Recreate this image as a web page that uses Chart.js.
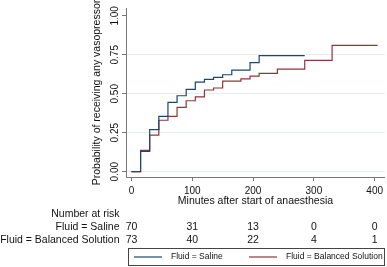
<!DOCTYPE html>
<html>
<head>
<meta charset="utf-8">
<script src="https://cdn.jsdelivr.net/npm/chart.js@4.4.1/dist/chart.umd.min.js"></script>
<style>
  html, body { margin: 0; padding: 0; background: #fff; }
  #wrap { width: 387px; height: 267px; position: relative; }
</style>
</head>
<body>
<div id="wrap"><canvas id="myChart"></canvas></div>
<script>
// Kaplan-Meier style cumulative curves
const salineTimes = [0, 15, 30, 45, 60, 75, 90, 105, 120, 135, 150, 165, 195, 210, 285];
const salineProb = [0, 0.13, 0.27, 0.355, 0.445, 0.487, 0.528, 0.575, 0.592, 0.605, 0.622, 0.652, 0.699, 0.744, 0.744];
const balancedTimes = [0, 15, 30, 45, 60, 75, 90, 105, 120, 135, 150, 180, 195, 210, 240, 285, 330, 405];
const balancedProb = [0, 0.137, 0.235, 0.33, 0.355, 0.413, 0.455, 0.48, 0.524, 0.537, 0.581, 0.596, 0.613, 0.631, 0.658, 0.714, 0.81, 0.81];

const xTicks = [0, 100, 200, 300, 400];
const yTicks = [0, 0.25, 0.5, 0.75, 1];

const riskTimes = [0, 100, 200, 300, 400];
const salineAtRisk = [70, 31, 13, 0, 0];
const balancedAtRisk = [73, 40, 22, 4, 1];
const groupLabels = ['Fluid = Saline', 'Fluid = Balanced Solution'];

const FONT = '"Liberation Sans", Arial, sans-serif';
const navy = '#1a476f';
const maroon = '#90353b';

Chart.defaults.font.family = FONT;
Chart.defaults.color = '#111';

const toPoints = (xs, ys) => xs.map((t, i) => ({x: t, y: ys[i]}));

const riskTable = {
    id: 'riskTable',
    afterDraw(chart) {
        const ctx = chart.ctx;
        const x = chart.scales.x;
        ctx.save();
        ctx.font = '10.5px ' + FONT;
        ctx.fillStyle = '#111';
        ctx.textBaseline = 'middle';
        ctx.textAlign = 'right';
        ctx.fillText('Number at risk', 119.5, 214);
        ctx.fillText(groupLabels[0], 119.5, 227.5);
        ctx.fillText(groupLabels[1], 119.5, 240.5);
        ctx.textAlign = 'center';
        riskTimes.forEach((t, i) => {
            const px = x.getPixelForValue(t);
            ctx.fillText(String(salineAtRisk[i]), px, 227.5);
            ctx.fillText(String(balancedAtRisk[i]), px, 240.5);
        });

        // legend box
        ctx.strokeStyle = '#444';
        ctx.lineWidth = 1;
        ctx.strokeRect(128.5, 248.5, 256, 17);
        ctx.font = '8.5px ' + FONT;
        ctx.textAlign = 'left';
        const ly = 257;
        ctx.lineWidth = 1.2;
        ctx.strokeStyle = navy;
        ctx.beginPath(); ctx.moveTo(134, ly); ctx.lineTo(162, ly); ctx.stroke();
        ctx.fillText(groupLabels[0], 171, ly);
        ctx.strokeStyle = maroon;
        ctx.beginPath(); ctx.moveTo(249, ly); ctx.lineTo(277, ly); ctx.stroke();
        ctx.fillText(groupLabels[1], 286, ly);
        ctx.restore();
    }
};

const config = {
    type: 'line',
    data: {
        datasets: [{
                label: groupLabels[0],
                data: toPoints(salineTimes, salineProb),
                borderColor: navy,
                borderWidth: 1.2,
                pointRadius: 0,
                stepped: 'before',
                fill: false
            },
            {
                label: groupLabels[1],
                data: toPoints(balancedTimes, balancedProb),
                borderColor: maroon,
                borderWidth: 1.2,
                pointRadius: 0,
                stepped: 'before',
                fill: false
            }
        ]
    },
    options: {
        responsive: true,
        maintainAspectRatio: false,
        animation: false,
        devicePixelRatio: 1,
        layout: {padding: {top: 8, bottom: 60, left: 0, right: 0}},
        plugins: {legend: {display: false}, tooltip: {enabled: false}},
        scales: {
            x: {
                type: 'linear',
                min: -9,
                max: 417,
                afterBuildTicks: (s) => { s.ticks = xTicks.map((v) => ({value: v})); },
                afterFit: (s) => { s.height = 30; },
                grid: {drawOnChartArea: false, drawTicks: true, tickLength: 4, tickColor: '#777'},
                border: {color: '#777', width: 1},
                ticks: {font: {size: 10}, padding: 4, maxRotation: 0, autoSkip: false},
                title: {display: true, text: 'Minutes after start of anaesthesia', font: {size: 10.5}, padding: 0}
            },
            y: {
                type: 'linear',
                min: -0.034,
                max: 1.05,
                afterBuildTicks: (s) => { s.ticks = yTicks.map((v) => ({value: v})); },
                afterFit: (s) => { s.width = 126; },
                grid: {
                    color: (c) => (c.tick && c.tick.value === 1) ? 'rgba(0,0,0,0)' : '#e6eef0',
                    tickColor: '#777',
                    tickLength: 4
                },
                border: {color: '#777', width: 1},
                ticks: {
                    font: {size: 10},
                    minRotation: 90,
                    maxRotation: 90,
                    crossAlign: 'center',
                    padding: -2.5,
                    callback: (v) => v.toFixed(2)
                },
                title: {display: true, text: 'Probability of receiving any vasopressor', font: {size: 10.5}, padding: {top: 90.5, bottom: 0}}
            }
        }
    },
    plugins: [riskTable]
};

let myChart = new Chart(document.getElementById('myChart'), config);
</script>
</body>
</html>
